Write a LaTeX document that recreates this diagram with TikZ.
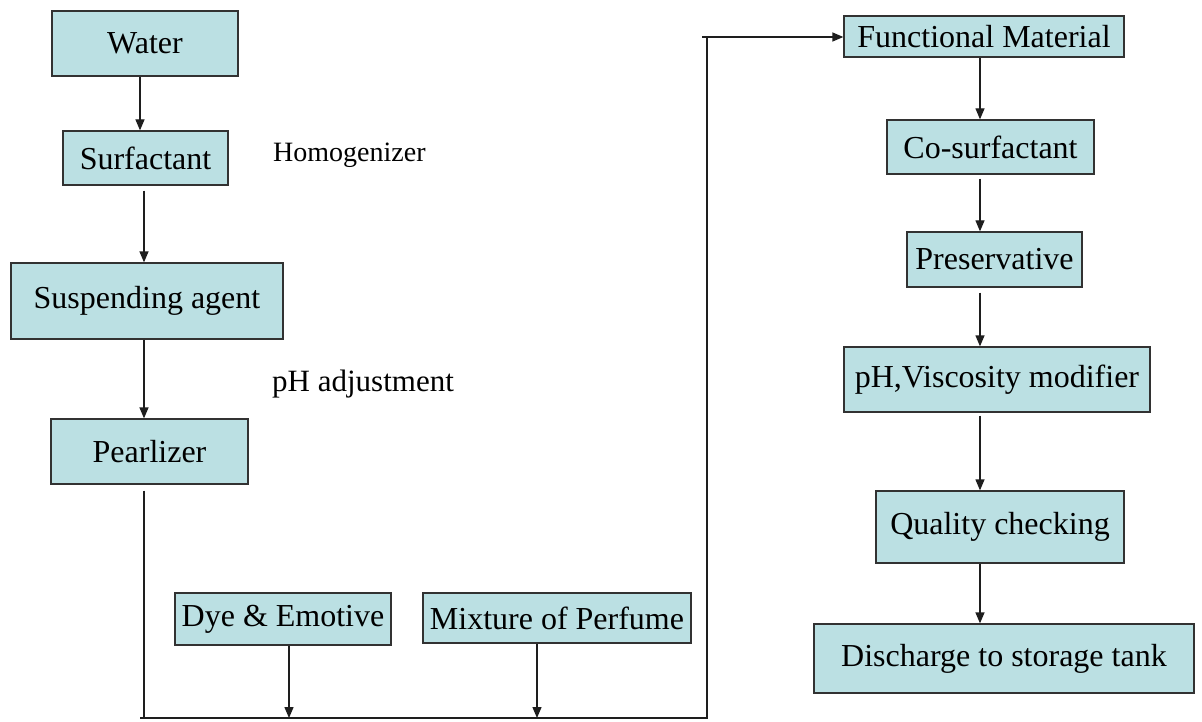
\documentclass[tikz,border=0pt]{standalone}
\usepackage{fontspec}
\setmainfont{Liberation Serif}
\usetikzlibrary{arrows.meta}
\definecolor{boxfill}{RGB}{187,224,227}
\definecolor{boxline}{RGB}{50,50,50}
\definecolor{lineclr}{RGB}{30,30,30}
\tikzset{
  stepbox/.style={draw=boxline, line width=1.3pt, fill=boxfill, inner sep=0pt,
    font=\fontsize{32}{36}\selectfont, anchor=center},
  arr/.style={draw=lineclr, line width=1.3pt, -{Triangle[length=11pt,width=9pt]}},
  plain/.style={draw=lineclr, line width=1.3pt},
  note/.style={inner sep=0pt, anchor=base west}
}
\newcommand{\bx}[6]{\node[stepbox, minimum width=#4pt, minimum height=#5pt] (#1) at (#2,#3) {#6};}
\begin{document}
\begin{tikzpicture}[x=1pt,y=-1pt]
\useasboundingbox[fill=white] (0,0) rectangle (1202,722);
% left column
\bx{water}{145}{43.5}{186}{65}{Water}
\bx{surf}{145.5}{158}{165}{54}{Surfactant}
\bx{susp}{147}{301}{272}{76}{Suspending agent}
\bx{pearl}{149.5}{451.5}{197}{65}{Pearlizer}
\bx{dye}{283}{619}{216}{52}{Dye \& Emotive}
\bx{mix}{557}{618}{268}{50}{Mixture of Perfume}
% right column
\bx{func}{984}{36.5}{280}{41}{Functional Material}
\bx{cosurf}{990.5}{147}{207}{54}{Co-surfactant}
\bx{pres}{994.5}{259.5}{175}{55}{Preservative}
\bx{phv}{997}{379.5}{306}{65}{pH,Viscosity modifier}
\bx{qual}{1000}{527}{248}{72}{Quality checking}
\bx{disch}{1004}{658.5}{380}{69}{Discharge to storage tank}
% notes
\node[note, font=\fontsize{28}{32}\selectfont] (homog) at (273,162) {Homogenizer};
\node[note, font=\fontsize{31}{35}\selectfont] (phadj) at (272,391) {pH adjustment};
% junction coordinates
\coordinate (bl) at (144,718);
\coordinate (blx) at (140,718);
\coordinate (br) at (707,718);
\coordinate (tr) at (707,37);
\coordinate (trx) at (702,37);
% left arrows
\draw[arr] (140,0 |- water.south) -- (140,0 |- surf.north);
\draw[arr] ([yshift=-5pt]144,0 |- surf.south) -- (144,0 |- susp.north);
\draw[arr] (144,0 |- susp.south) -- (144,0 |- pearl.north);
\draw[plain] ([yshift=-6pt]144,0 |- pearl.south) -- (bl);
\draw[plain] (blx) -- (br) -- (tr);
\draw[arr] (trx) -- (func.west |- tr);
\draw[arr] (289,0 |- dye.south) -- (289,0 |- bl);
\draw[arr] (537,0 |- mix.south) -- (537,0 |- bl);
% right arrows
\draw[arr] (980,0 |- func.south) -- (980,0 |- cosurf.north);
\draw[arr] ([yshift=-4pt]980,0 |- cosurf.south) -- (980,0 |- pres.north);
\draw[arr] ([yshift=-5pt]980,0 |- pres.south) -- (980,0 |- phv.north);
\draw[arr] ([yshift=-3pt]980,0 |- phv.south) -- (980,0 |- qual.north);
\draw[arr] (980,0 |- qual.south) -- (980,0 |- disch.north);
\end{tikzpicture}
\end{document}
